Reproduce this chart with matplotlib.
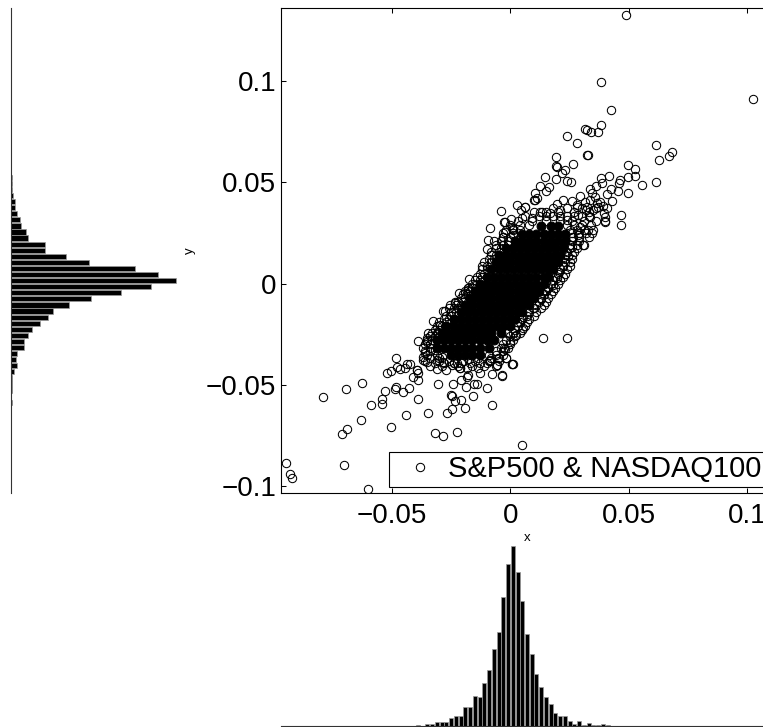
import numpy as np
import matplotlib
matplotlib.use("Agg")
import matplotlib.pyplot as plt

plt.rcParams['font.family'] = ['Liberation Sans', 'DejaVu Sans']

W, H = 763, 727

# daily returns: open circles outside the solid core
outer_x = [.0488,.0381,.1022,.0426,.0381,.0316,.0325,.0339,.0368,.0240,.0283,.0326,.0325,.0616,.0683,.0669,.0626,
 .0194,.0194,.0195,.0266,.0231,.0219,.0194,.0146,.0238,.0257,.0124,.0162,.0150,.0103,.0111,.0100,.0027,-.0041,.0063,.0132,
 .0495,.0526,.0526,.0498,.0557,.0613,.0498,.0463,.0460,.0415,.0381,.0385,.0361,.0336,.0426,.0453,.0406,.0343,.0294,.0357,
 .0336,.0429,.0378,.0392,.0371,.0350,.0395,.0399,.0401,.0465,.0465,.0224,.0259,.0195,.0280,.0315,.0319,.0287,.0336,.0329,.0346,
 .0308,.0287,-.0086,-.0025,-.0021,.0004,.0044,-.0093,-.0069,-.0100,-.0030,.0013,
 .0062,.0048,.0104,.0399,.0245,.0207,.0181,.0238,.0280,.0125,.0090,.0006,-.0022,-.0030,.0013,.0167,.0209,.0322,.0364,.0406,
 .0294,.0266,.0259,.0224,.0195,.0132,.0146,.0097,.0128,
 -.0176,-.0218,-.0177,-.0233,-.0261,-.0283,-.0328,-.0297,-.0391,-.0353,-.0482,-.0437,-.0423,-.0519,-.0505,-.0477,-.0465,-.0444,
 -.0395,-.0388,-.0409,-.0388,-.0369,-.0353,-.0311,-.0273,-.0311,-.0283,-.0248,-.0227,-.0184,-.0212,-.0135,-.0128,-.0177,-.0079,-.0034,-.0058,-.0052,-.0018,.0007,.0010,-.0086,-.0135,-.0173,
 -.0305,-.0244,-.0210,-.0153,-.0139,-.0187,-.0097,-.0627,-.0693,-.0791,-.0482,-.0489,-.0531,-.0455,-.0426,-.0540,-.0543,-.0590,
 -.0391,-.0250,-.0247,-.0159,-.0233,-.0209,-.0191,-.0247,-.0266,-.0349,-.0441,-.0079,-.0630,-.0503,-.0689,-.0710,-.0318,-.0284,-.0225,
 .0049,-.0702,-.0946,-.0932,-.0921,-.0600,.0136,.0239,.0052,.0022,-.0001,-.0024,
 -.0276,-.0254,-.0233,-.0191,-.0177,-.0304,-.0346,-.0353,-.0360,-.0318,-.0367,-.0395,-.0240,-.0212,-.0184,-.0037,-.0055,.0006,-.0086,-.0249,-.0290,-.0025,.0055,-.0015,.0027]
outer_y = [.1327,.0997,.0911,.0855,.0781,.0762,.0759,.0751,.0748,.0728,.0693,.0635,.0634,.0682,.0652,.0630,.0612,
 .0624,.0581,.0578,.0592,.0561,.0545,.0518,.0526,.0508,.0502,.0480,.0475,.0457,.0449,.0421,.0411,.0386,.0361,.0376,.0355,
 .0584,.0564,.0530,.0525,.0485,.0503,.0447,.0512,.0497,.0533,.0521,.0498,.0482,.0469,.0467,.0455,.0442,.0449,.0432,.0429,
 .0413,.0408,.0404,.0383,.0376,.0363,.0347,.0327,.0305,.0337,.0289,.0413,.0408,.0393,.0388,.0404,.0363,.0338,.0330,.0267,.0252,
 .0190,.0239,.0276,.0306,.0302,.0317,.0365,.0215,.0212,.0169,.0232,.0270,
 .0377,.0322,.0413,.0311,.0138,.0059,-.0007,.0314,.0380,.0355,.0322,.0273,.0257,.0191,.0240,.0347,.0363,.0380,.0396,.0372,
 .0281,.0232,.0183,.0092,.0026,-.0048,-.0031,-.0122,-.0077,
 .0025,-.0046,-.0031,-.0094,-.0122,-.0135,-.0186,-.0204,-.0281,-.0270,-.0367,-.0396,-.0396,-.0442,-.0431,-.0410,-.0423,-.0414,
 -.0426,-.0442,-.0459,-.0475,-.0360,-.0385,-.0423,-.0426,-.0377,-.0385,-.0402,-.0393,-.0418,-.0418,-.0418,-.0439,-.0451,-.0446,-.0454,-.0402,-.0369,-.0369,-.0396,-.0398,-.0380,-.0369,-.0373,
 -.0495,-.0493,-.0475,-.0495,-.0497,-.0512,-.0516,-.0488,-.0520,-.0561,-.0508,-.0521,-.0530,-.0536,-.0513,-.0569,-.0595,-.0597,
 -.0571,-.0548,-.0553,-.0553,-.0577,-.0574,-.0612,-.0618,-.0640,-.0637,-.0650,-.0597,-.0674,-.0707,-.0716,-.0740,-.0738,-.0750,-.0732,
 -.0796,-.0895,-.0883,-.0938,-.0959,-.1015,-.0268,-.0267,-.0220,-.0252,-.0286,-.0321,
 -.0133,-.0105,-.0089,-.0048,-.0023,-.0237,-.0245,-.0286,-.0344,-.0327,-.0377,-.0426,-.0393,-.0418,-.0459,-.0451,-.0401,-.0396,-.0377,-.0335,-.0360,-.0319,-.0163,-.0245,-.0187]

# dense fringe of open circles hugging the core, read row by row
fringe_row_y = [.0375,.0335,.031,.0265,.0228,.019,.0158,.012,.0088,.005,.0018,-.002,-.005,-.009,-.012,-.016,-.019,-.023,-.026,-.030,-.033,-.0365,-.039,
 .0355,.029,.0248,.021,.0175,.014,.0105,.007,.0035,0,-.0035,-.007,-.0105,-.014,-.0175,-.021,-.0245,-.028,-.0315,-.035,-.038,-.0405]
fringe_row_x = [
 [.018,.024,.030,.036],
 [.006,.012,.015,.018,.021,.024,.027,.030,.033],
 [.003,.009,.015,.021,.026,.031,.036],
 [-.002,.001,.004,.025,.028,.031,.035],
 [-.003,0,.026,.029,.033],
 [-.006,-.003,-.001,.025,.028,.031],
 [-.008,-.005,.024,.027],
 [-.009,-.007,.023,.026],
 [-.012,-.010,.022,.025],
 [-.013,-.011,.020,.023],
 [-.015,-.013,.018,.021],
 [-.018,-.016,.016,.019],
 [-.020,-.018,.014,.017],
 [-.022,-.020,.012,.015],
 [-.024,-.022,.010,.013],
 [-.027,-.025,.007,.010],
 [-.030,-.027,.004,.007],
 [-.032,-.030,.002,.005],
 [-.034,-.032,0,.002],
 [-.036,-.034,-.003,0],
 [-.036,-.034,-.006,-.003],
 [-.034,-.030,-.008,-.005,-.002],
 [-.032,-.028,-.024,-.021,-.017,-.013,-.010],
 [.010,.015,.020,.027,.033],
 [0,.004,.008,.024,.027,.030,.034],
 [-.003,.001,.026,.029,.032],
 [-.004,-.001,.026,.029],
 [-.006,-.004,.025,.028],
 [-.008,-.006,.023,.026],
 [-.011,-.008,.023,.025],
 [-.012,-.010,.021,.024],
 [-.014,-.012,.019,.022],
 [-.016,-.014,.017,.020],
 [-.019,-.017,.015,.018],
 [-.021,-.019,.013,.016],
 [-.023,-.021,.011,.014],
 [-.025,-.023,.008,.011],
 [-.028,-.026,.005,.008],
 [-.031,-.029,.003,.006],
 [-.033,-.031,.001,.004],
 [-.035,-.033,-.002,.001],
 [-.037,-.034,-.004,-.001],
 [-.035,-.031,-.009,-.006,-.003],
 [-.036,-.030,-.026,-.020,-.015,-.009,-.005],
 [-.034,-.029,-.022,-.016,-.011,-.006],
]

# the solid black core of overlapping circles, read row by row
core_row_y = [.0285,.0245,.021,.0175,.014,.0105,.007,.0035,0,-.0035,-.007,-.0105,-.014,-.0175,-.021,-.0245,-.028,-.0315,-.035]
core_row_x = [
 [.013,.017,.020],
 [.005,.008,.011,.014,.017,.020,.023],
 [.002,.005,.008,.011,.014,.017,.020,.023],
 [-.002,.001,.004,.007,.010,.013,.016,.019,.022],
 [-.005,-.002,.001,.004,.007,.010,.013,.016,.019,.021],
 [-.006,-.003,0,.003,.006,.009,.012,.015,.018,.020],
 [-.008,-.005,-.002,.001,.004,.007,.010,.013,.016,.018],
 [-.010,-.007,-.004,-.001,.002,.005,.008,.011,.014,.016],
 [-.013,-.010,-.007,-.004,-.001,.002,.005,.008,.011,.014],
 [-.015,-.012,-.009,-.006,-.003,0,.003,.006,.009,.012],
 [-.017,-.014,-.011,-.008,-.005,-.002,.001,.004,.007,.010],
 [-.019,-.016,-.013,-.010,-.007,-.004,-.001,.002,.005,.008],
 [-.021,-.018,-.015,-.012,-.009,-.006,-.003,0,.003,.005],
 [-.024,-.021,-.018,-.015,-.012,-.009,-.006,-.003,0,.002],
 [-.027,-.024,-.021,-.018,-.015,-.012,-.009,-.006,-.003,0],
 [-.029,-.026,-.023,-.020,-.017,-.014,-.011,-.008,-.004],
 [-.031,-.028,-.025,-.022,-.019,-.016,-.013,-.010,-.007],
 [-.031,-.028,-.025,-.022,-.019,-.016,-.013,-.009],
 [-.025,-.022,-.019,-.016,-.013],
]

# histogram of x: first bin centre and counts
x_first_center = -.093
x_bin = .002
x_counts = [1,0,0,0,0,0,0,0,0,0,0,1,0,0,0,1,0,0,0,1,0,0,1,1,1,1,0,
 4,2,8,6,14,14,14,26,30,32,59,57,91,89,131,168,233,284,387,488,
 541,462,377,278,216,156,118,89,66,39,31,32,17,6,15,3,9,5,4,8,3,1,1,1,1,0,0,0,0,1]

# histogram of y: top bin centre and counts, going downward
y_top_center = .0525
y_bin = .003
y_counts = [3,3,3,5,10,10,18,25,28,44,50,100,100,165,233,370,441,494,
 418,329,240,173,125,110,87,63,50,39,38,16,14,17,8,2,2,2,0,2]

x_ticks = [-.05, 0, .05, .1]
x_ticklabels = ['\u22120.05', '0', '0.05', '0.1']
y_ticks = [-.1, -.05, 0, .05, .1]
y_ticklabels = ['\u22120.1', '\u22120.05', '0', '0.05', '0.1']
legend_label = 'S&P500 & NASDAQ100'

def box(l, t, r, b):
    return [l / W, 1 - b / H, (r - l) / W, (b - t) / H]

fig = plt.figure(figsize=(W / 100, H / 100), dpi=100, facecolor='white')

# main scatter
ax = fig.add_axes(box(281, 7.7, 773, 493))
core_x = [x for row in core_row_x for x in row]
core_y = [y for y, row in zip(core_row_y, core_row_x) for _ in row]
fringe_x = [x for row in fringe_row_x for x in row]
fringe_y = [y for y, row in zip(fringe_row_y, fringe_row_x) for _ in row]
ax.plot(core_x, core_y, 'o', ms=6.4, mfc='black', mec='black', mew=.75, zorder=2)
ax.plot(fringe_x, fringe_y, 'o', ms=6, mfc='none', mec='black', mew=.75, zorder=3)
ax.plot(outer_x, outer_y, 'o', ms=6, mfc='none', mec='black', mew=.75, zorder=3, label=legend_label)
ax.set_xlim(-.0968, .1108)
ax.set_ylim(-.1033, .1362)
ax.set_xticks(x_ticks, x_ticklabels, fontsize=20)
ax.set_yticks(y_ticks, y_ticklabels, fontsize=20)
ax.tick_params(direction='in', length=3.3, width=.75, top=True, right=True)
ax.tick_params(axis='x', pad=7)
ax.tick_params(axis='y', pad=3.5)
for s in ax.spines.values():
    s.set_linewidth(.8)
ax.set_xlabel('x', fontsize=9.5, va='center')
ax.xaxis.set_label_coords(.5, (493 - 538) / (493 - 7.7))
ax.set_ylabel('y', fontsize=9.5, va='center', ha='center')
ax.yaxis.set_label_coords((190 - 281) / (773 - 281), .5)
leg = ax.legend(loc='lower left', bbox_to_anchor=((389 - 281) / 492, (493 - 486.5) / 485.3),
                borderaxespad=0, fancybox=False, framealpha=1, edgecolor='black', fontsize=21,
                numpoints=1, borderpad=.12, handlelength=1.9, handletextpad=0)
leg.get_frame().set_linewidth(.8)

# y histogram at left
axy = fig.add_axes(box(11.3, 7.7, 200, 493))
y_centers = y_top_center - y_bin * np.arange(len(y_counts))
axy.barh(y_centers, y_counts, height=y_bin * .86, color='black', edgecolor='#999999', linewidth=.5)
axy.set_ylim(-.1033, .1362)
axy.set_xlim(0, 566)
axy.set_xticks([]); axy.set_yticks([])
for k in ('top', 'right', 'bottom'):
    axy.spines[k].set_visible(False)
axy.spines['left'].set_linewidth(.8)
axy.spines['left'].set_color('#333333')
axy.patch.set_alpha(0)

# x histogram at bottom
axx = fig.add_axes(box(281, 540, 773, 726.2))
x_centers = x_first_center + x_bin * np.arange(len(x_counts))
axx.bar(x_centers, x_counts, width=x_bin * .84, color='black', edgecolor='#999999', linewidth=.5)
axx.set_xlim(-.0968, .1108)
axx.set_ylim(0, 559)
axx.set_xticks([]); axx.set_yticks([])
for k in ('top', 'right', 'left'):
    axx.spines[k].set_visible(False)
axx.spines['bottom'].set_linewidth(.8)
axx.spines['bottom'].set_color('#333333')
axx.patch.set_alpha(0)

fig.savefig('out.png', dpi=100, facecolor='white')
